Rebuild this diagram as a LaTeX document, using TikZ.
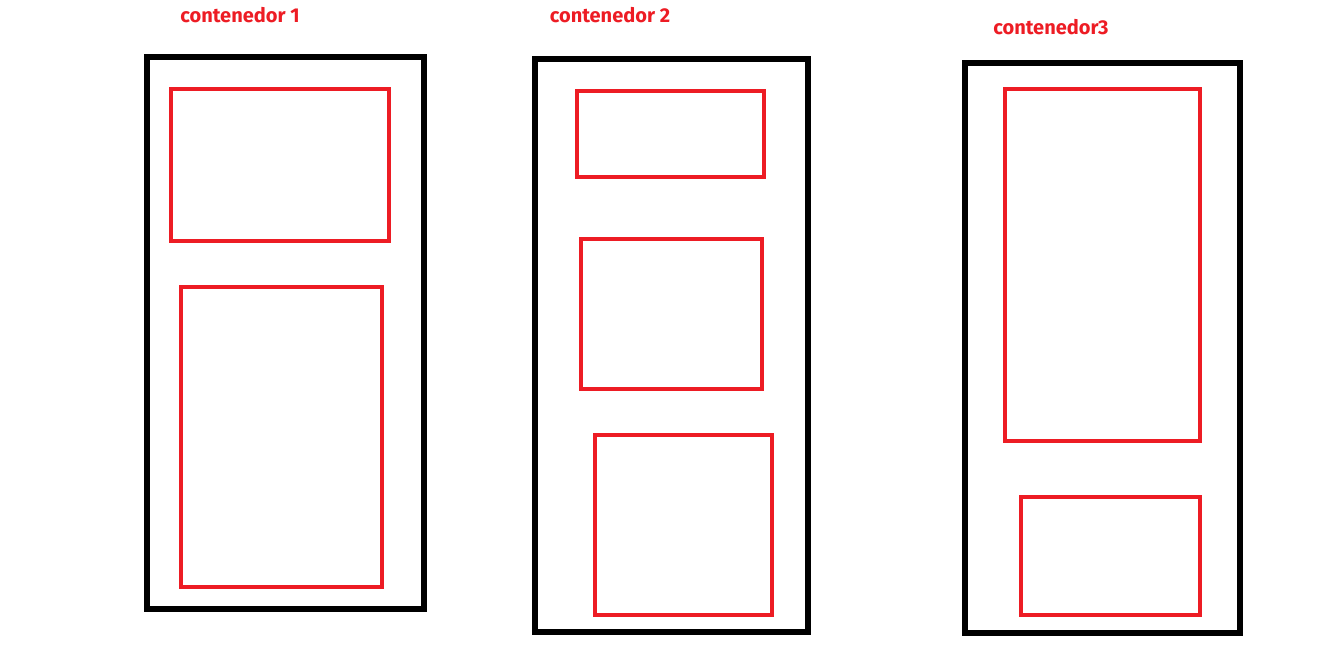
\documentclass[tikz,border=0pt]{standalone}
\usepackage{fontspec}
\setsansfont{Fira Sans}
\usepackage{tikz}
\definecolor{paintred}{RGB}{237,28,36}

\begin{document}
\begin{tikzpicture}[x=0.02cm,y=-0.02cm,
	caja/.style={draw=black,line width=2.9pt},
	hueco/.style={draw=paintred,line width=2.4pt},
	titulo/.style={text=paintred,font=\sffamily\bfseries\fontsize{11.4}{13}\selectfont,inner sep=0pt}]
	\useasboundingbox (0,0) rectangle (1338,664);

	% contenedor 1
	\node[titulo] (t1) at (240,15) {contenedor 1};
	\draw[caja]  (147,57) rectangle (424,609);
	\draw[hueco] (171,89) rectangle (389,241);
	\draw[hueco] (181,287) rectangle (382,587);

	% contenedor 2
	\node[titulo] (t2) at (610,15) {contenedor 2};
	\draw[caja]  (535,59) rectangle (808,632);
	\draw[hueco] (577,91) rectangle (764,177);
	\draw[hueco] (581,239) rectangle (762,389);
	\draw[hueco] (595,435) rectangle (772,615);

	% contenedor 3
	\node[titulo] (t3) at (1051,27) {contenedor3};
	\draw[caja]  (965,63) rectangle (1240,633);
	\draw[hueco] (1005,89) rectangle (1200,441);
	\draw[hueco] (1021,497) rectangle (1200,615);
\end{tikzpicture}
\end{document}
